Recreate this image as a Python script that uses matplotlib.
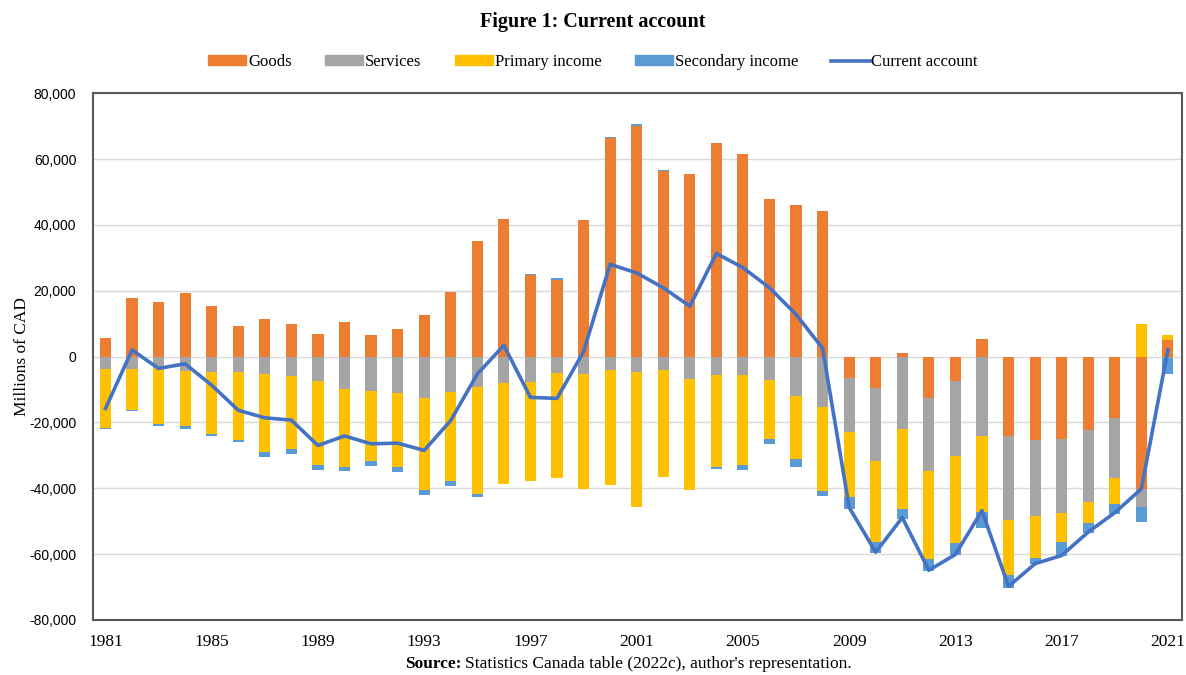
import numpy as np
import matplotlib.pyplot as plt
from matplotlib.patches import Patch
from matplotlib.lines import Line2D
from matplotlib.ticker import FuncFormatter

years = list(range(1981, 2022))

# Millions of CAD
goods = [5600, 17800, 16600, 19400, 15300, 9200, 11400, 10000, 6900, 10500,
         6400, 8400, 12500, 19700, 35000, 41700, 24900, 23300, 41400, 66300,
         70000, 56300, 55500, 65000, 61600, 48000, 46100, 44100, -6400, -9400,
         1200, -12700, -7400, 5300, -24100, -25400, -25000, -22200, -18600, -40200,
         5100]
services = [-3800, -3800, -3600, -4300, -4800, -4800, -5300, -5800, -7300, -9900,
            -10500, -11200, -12700, -10700, -9200, -8100, -7600, -5100, -5400, -4100,
            -4600, -4100, -6800, -5600, -5600, -7100, -12000, -15300, -16500, -22200,
            -21900, -22200, -22800, -24100, -25600, -22900, -22400, -21900, -18200, -5600,
            -500]
primary_income = [-17800, -12400, -17000, -16900, -18600, -20500, -23700, -22400, -25600, -23700,
                  -21300, -22400, -27800, -27200, -32600, -30500, -30300, -31900, -34800, -34900,
                  -41200, -32600, -33700, -28000, -27300, -17800, -19100, -25500, -19900, -24700,
                  -24400, -26500, -26300, -23200, -16500, -13000, -9000, -6300, -8100, 9900,
                  1300]
secondary_income = [-300, -300, -400, -900, -800, -700, -1500, -1500, -1400, -1200,
                    -1500, -1400, -1500, -1500, -900, -200, 200, 500, 200, 400,
                    700, 500, -100, -500, -1500, -1800, -2500, -1500, -3500, -3300,
                    -3100, -3800, -3900, -4900, -4100, -1800, -4300, -3100, -2900, -4300,
                    -4800]
current_account = [-15800, 2000, -3600, -2200, -8700, -16300, -18600, -19300, -27000, -24100,
                   -26500, -26300, -28500, -19400, -5300, 3400, -12400, -12700, 1500, 28000,
                   25400, 20900, 15300, 31300, 27000, 20900, 12800, 2500, -45800, -59400,
                   -48900, -64900, -60100, -46800, -69800, -62900, -60400, -53300, -47400, -40200,
                   2000]

series = [("Goods", goods, "#ED7D31"),
          ("Services", services, "#A5A5A5"),
          ("Primary income", primary_income, "#FFC000"),
          ("Secondary income", secondary_income, "#5B9BD5")]
line_color = "#4472C4"

serif = ["Liberation Serif", "DejaVu Serif"]
sans = ["Liberation Sans", "DejaVu Sans"]

fig = plt.figure(figsize=(11.86, 6.75), dpi=100)
ax = fig.add_axes([0.0784, 0.0815, 0.9182, 0.7805])

# Excel-style stacking: positives build up from zero, negatives build down
x = np.array(years)
pos_base = np.zeros(len(years))
neg_base = np.zeros(len(years))
for name, vals, col in series:
    v = np.array(vals, dtype=float)
    base = np.where(v >= 0, pos_base, neg_base)
    ax.bar(x, v, width=0.42, bottom=base, color=col, zorder=2)
    pos_base = pos_base + np.where(v >= 0, v, 0)
    neg_base = neg_base + np.where(v < 0, v, 0)

ax.plot(x, current_account, color=line_color, lw=2.6, zorder=3)

ax.set_xlim(1980.53, 2021.53)
ax.set_ylim(-80000, 80000)
ax.set_yticks(range(-80000, 80001, 20000))
ax.yaxis.set_major_formatter(FuncFormatter(lambda v, p: f"{int(v):,}"))
ax.set_xticks(range(1981, 2022, 4))
ax.grid(axis="y", color="#D9D9D9", lw=1, zorder=0)
ax.tick_params(length=0)
for lab in ax.get_yticklabels():
    lab.set_family(sans)
    lab.set_fontsize(10)
for lab in ax.get_xticklabels():
    lab.set_family(serif)
    lab.set_fontsize(12.5)
ax.tick_params(axis="x", pad=10)
ax.tick_params(axis="y", pad=12)
for s in ax.spines.values():
    s.set_color("#595959")
    s.set_linewidth(1.5)

ax.set_ylabel("Millions of CAD", family=serif, fontsize=12.5)
ax.yaxis.set_label_coords(-0.058, 0.5)

fig.text(0.5, 0.967, "Figure 1: Current account", ha="center", va="center",
         family=serif, fontsize=14.5, fontweight="bold")

handles = [Patch(color=col, label=name) for name, vals, col in series]
handles.append(Line2D([0], [0], color=line_color, lw=2.6, label="Current account"))
fig.legend(handles=handles, loc="center", bbox_to_anchor=(0.5, 0.908), ncol=5,
           frameon=False, prop={"family": serif, "size": 12},
           handlelength=2.3, handleheight=0.55, handletextpad=0.1, columnspacing=2.0)

fig.text(0.389, 0.004, "Source:", ha="right", va="bottom", family=serif,
         fontsize=12.5, fontweight="bold")
fig.text(0.392, 0.004, "Statistics Canada table (2022c), author's representation.",
         ha="left", va="bottom", family=serif, fontsize=12.5)

fig.savefig("out.png", dpi=100)
